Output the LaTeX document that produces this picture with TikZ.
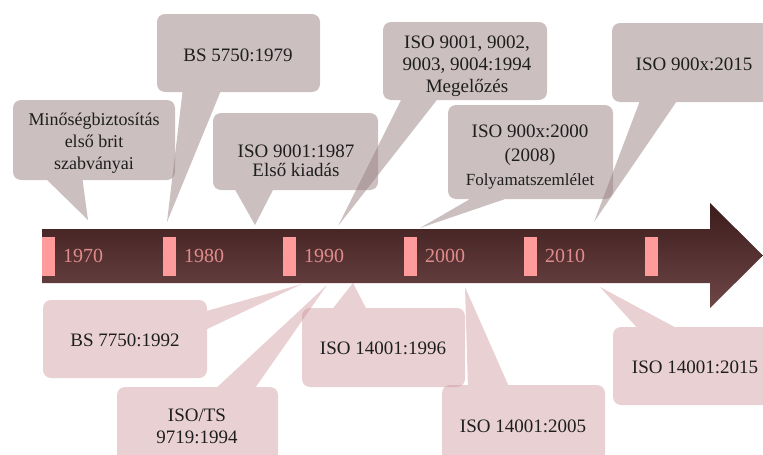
\documentclass[tikz,border=0pt]{standalone}
\usepackage{fontspec}
\setmainfont{Liberation Serif}
\definecolor{bartop}{RGB}{60,28,28}
\definecolor{barbot}{RGB}{110,70,70}
\definecolor{tickpink}{RGB}{255,155,155}
\definecolor{yearpink}{RGB}{225,140,140}
\definecolor{upperfill}{RGB}{152,128,130}
\definecolor{lowerfill}{RGB}{200,140,145}
\definecolor{txt}{RGB}{30,30,30}
% rounded box plus its pointer, filled as one path
\newcommand\callout[6]{\fill[#1] #2 [rounded corners=8pt] rectangle #3 [sharp corners] #4 -- #5 -- #6 -- cycle;}
\begin{document}
\begin{tikzpicture}[x=1pt,y=-1pt,
  upper/.style={fill=upperfill, fill opacity=0.5},
  lower/.style={fill=lowerfill, fill opacity=0.4},
  tickbar/.style={fill=tickpink},
  yearlbl/.style={text=yearpink, font=\fontsize{20}{20}\selectfont, inner sep=0pt},
  lbl/.style={text=txt, align=center, inner sep=0pt, font=\fontsize{19}{22}\selectfont},
]
\useasboundingbox (0,0) rectangle (763,455);
\clip (0,0) rectangle (763,455);

% timeline arrow
\shade[top color=bartop, bottom color=barbot]
  (42,229) -- (710,229) -- (710,203) -- (763,255.5) -- (710,308) -- (710,283) -- (42,283) -- cycle;

% decade marks
\foreach \x [count=\i] in {42,163,283,404,524,645}
  \fill[tickbar] (\x,237) rectangle ++(13,39);
\foreach \x/\yr in {83/1970,204/1980,324/1990,445/2000,565/2010}
  \node[yearlbl] (y\yr) at (\x,256) {\yr};

% pointer tips
\coordinate (t1) at (88,220);
\coordinate (t2) at (167,222);
\coordinate (t3) at (255,225);
\coordinate (t4) at (338,226);
\coordinate (t5) at (420,228);
\coordinate (t6) at (594,222);
\coordinate (t7) at (302,284);
\coordinate (t8) at (327,285);
\coordinate (t9) at (353,283);
\coordinate (t10) at (465,287);
\coordinate (t11) at (600,287);

% callouts above the line
\callout{upper}{(13,100)}{(175,180)}{(43,176)}{(t1)}{(82,176)}
\callout{upper}{(157,14)}{(320,92)}{(183,88)}{(t2)}{(222,88)}
\callout{upper}{(213,113)}{(378,190)}{(233,186)}{(t3)}{(275,186)}
\callout{upper}{(383,22)}{(547,100)}{(403,96)}{(t4)}{(440,96)}
\callout{upper}{(448,105)}{(613,199)}{(477,195)}{(t5)}{(517,195)}
\callout{upper}{(612,23)}{(777,102)}{(641,98)}{(t6)}{(679,98)}

% callouts below the line
\callout{lower}{(43,300)}{(207,378)}{(203,331)}{(t7)}{(203,312)}
\callout{lower}{(117,387)}{(278,467)}{(253,391)}{(t8)}{(213,391)}
\callout{lower}{(302,308)}{(465,387)}{(368,312)}{(t9)}{(330,312)}
\callout{lower}{(442,385)}{(605,462)}{(510,389)}{(t10)}{(468,389)}
\callout{lower}{(613,327)}{(777,405)}{(682,331)}{(t11)}{(640,331)}

% callout texts
\node[lbl, font=\fontsize{18}{22}\selectfont] (c1) at (94,143) {Minőségbiztosítás\\első brit\\szabványai};
\node[lbl] (c2) at (238,55) {BS 5750:1979};
\node[lbl, font=\fontsize{19}{19}\selectfont] (c3) at (296,161) {ISO 9001:1987\\Első kiadás};
\node[lbl] (c4) at (467,66) {ISO 9001, 9002,\\9003, 9004:1994\\Megelőzés};
\node[lbl, font=\fontsize{19}{24}\selectfont] (c5) at (530,157) {ISO 900x:2000\\(2008)\\\fontsize{17}{22}\selectfont Folyamatszemlélet};
\node[lbl] (c6) at (694,64) {ISO 900x:2015};
\node[lbl] (c7) at (125,340) {BS 7750:1992};
\node[lbl] (c8) at (197,426) {ISO/TS\\9719:1994};
\node[lbl] (c9) at (383,348) {ISO 14001:1996};
\node[lbl] (c10) at (523,426) {ISO 14001:2005};
\node[lbl] (c11) at (695,367) {ISO 14001:2015};
\end{tikzpicture}
\end{document}
